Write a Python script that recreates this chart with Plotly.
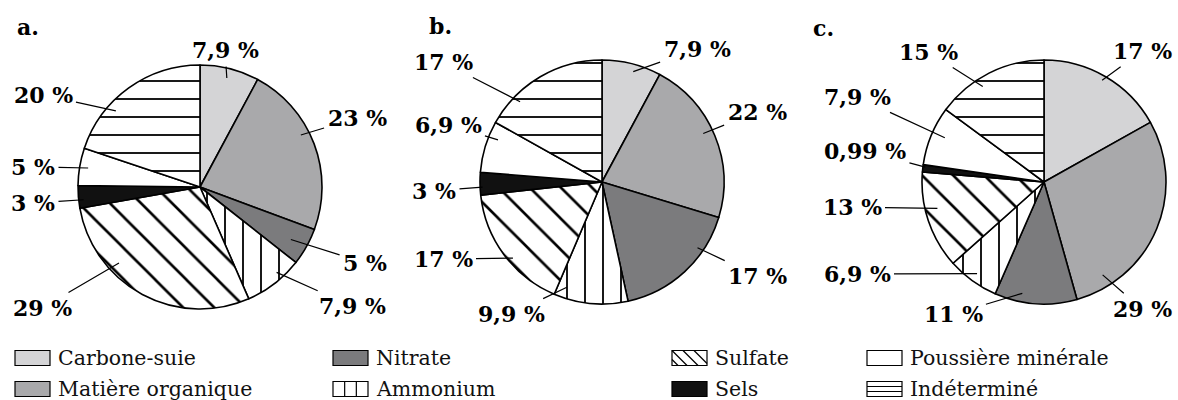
import math
import plotly.graph_objects as go

# ---------------- data ----------------
CATEGORIES = ["Carbone-suie", "Matière organique", "Nitrate", "Ammonium",
              "Sulfate", "Sels", "Poussière minérale", "Indéterminé"]
VALUES_A = [7.9, 23, 5, 7.9, 29, 3, 5, 20]
VALUES_B = [7.9, 22, 17, 9.9, 17, 3, 6.9, 17]
VALUES_C = [17, 29, 11, 6.9, 13, 0.99, 7.9, 15]
PANEL_TITLES = ["a.", "b.", "c."]

# ---------------- styles ----------------
W, H = 1178, 400
FILL = ["#d4d4d6", "#a9a9ab", "#7b7b7d", "white", "white", "#111111", "white", "white"]
PATTERN = ["", "", "", "|", "\\", "", "", "-"]
PSIZE = [8, 8, 8, 18, 22, 8, 8, 18]
PSOLID = [0.1, 0.1, 0.1, 0.1, 0.12, 0.1, 0.1, 0.1]
R = 122
PIE_CENTERS = [(200, 187), (602, 182), (1044, 182)]
TITLE_POS = [(15, 27), (427, 26), (811, 28)]
# label placement: (position within slice, radial fraction of tip, label x px, label y px)
LABEL_LAYOUT = [
    [(0.49, 0.92, 225, 50), (0.42, 0.93, 357, 118), (0.54, 0.86, 365, 263),
     (0.35, 0.94, 352, 306), (0.68, 0.91, 42, 308), (0.35, 0.96, 33, 203),
     (0.5, 0.93, 33, 167), (0.33, 0.93, 43, 95)],
    [(0.56, 0.94, 697, 49), (0.46, 0.92, 757, 112), (0.29, 0.95, 757, 276),
     (0.87, 0.91, 511, 314), (0.435, 0.96, 443, 259), (0.35, 0.98, 434, 191),
     (0.71, 0.92, 448, 125), (0.25, 0.94, 443, 62)],
    [(0.49, 0.96, 1142, 51), (0.84, 0.90, 1142, 309), (0.68, 0.93, 953, 314),
     (0.51, 0.93, 857, 274), (0.60, 0.90, 852, 207), (0.71, 0.98, 865, 151),
     (0.56, 0.89, 857, 97), (0.39, 0.93, 928, 52)],
]
LEG_COL_X = [15, 333, 672, 867]
LEG_ROW_Y = [358, 389]
SW_W, SW_H = 35, 15
LABEL_FONT = dict(family="DejaVu Serif", size=22, color="black", weight="bold")
LEG_FONT = dict(family="DejaVu Serif", size=20.5, color="#111111")


def px(x):
    return x / W


def py(y):
    return 1 - y / H


def fmt(v):
    return ("%g" % v).replace(".", ",") + " %"


fig = go.Figure()
annotations = []
shapes = []

for p, vals in enumerate([VALUES_A, VALUES_B, VALUES_C]):
    cx, cy = PIE_CENTERS[p]
    fig.add_trace(go.Pie(
        labels=CATEGORIES, values=vals, sort=False, direction="clockwise",
        rotation=0, textinfo="none", showlegend=False,
        domain=dict(x=[px(cx - R), px(cx + R)], y=[py(cy + R), py(cy - R)]),
        marker=dict(colors=FILL, line=dict(color="black", width=1.6),
                    pattern=dict(shape=PATTERN, size=PSIZE, solidity=PSOLID,
                                 fgcolor="black", bgcolor="white", fillmode="replace")),
    ))
    total = sum(vals)
    cum = 0.0
    for i, v in enumerate(vals):
        t, f, lx, ly = LABEL_LAYOUT[p][i]
        theta = math.radians((cum + t * v) / total * 360.0)
        tx = cx + f * R * math.sin(theta)
        ty = cy - f * R * math.cos(theta)
        annotations.append(dict(
            x=px(tx), y=py(ty), xref="paper", yref="paper",
            ax=lx - tx, ay=ly - ty, axref="pixel", ayref="pixel",
            text=fmt(v), showarrow=True, arrowhead=0, arrowwidth=1.2,
            arrowcolor="black", standoff=0, startstandoff=2,
            font=LABEL_FONT, borderpad=1,
        ))
        cum += v
    tx0, ty0 = TITLE_POS[p]
    annotations.append(dict(x=px(tx0), y=py(ty0), xref="paper", yref="paper",
                            xanchor="left", yanchor="middle", showarrow=False,
                            text=PANEL_TITLES[p], font=LABEL_FONT))

# ---------------- legend (drawn) ----------------
for i, name in enumerate(CATEGORIES):
    col, row = i // 2, i % 2
    x0 = LEG_COL_X[col]
    yc = LEG_ROW_Y[row]
    y0, y1 = yc - SW_H / 2, yc + SW_H / 2
    x1 = x0 + SW_W
    shapes.append(dict(type="rect", xref="paper", yref="paper",
                       x0=px(x0), x1=px(x1), y0=py(y1), y1=py(y0),
                       fillcolor=FILL[i], line=dict(color="black", width=1.2)))
    pat = PATTERN[i]
    segs = []
    if pat == "|":
        for k in (1, 2):
            xx = x0 + SW_W * k / 3
            segs.append((xx, y0, xx, y1))
    elif pat == "-":
        for k in (1, 2):
            yy = y0 + SW_H * k / 3
            segs.append((x0, yy, x1, yy))
    elif pat == "\\":
        for a in (-SW_H + 6, 0, 11, 22):
            sx, sy = x0 + a, y0
            if sx < x0:
                sy = y0 + (x0 - sx)
                sx = x0
            ex = min(x0 + a + SW_H, x1)
            ey = y0 + (ex - (x0 + a))
            if ex > sx:
                segs.append((sx, sy, ex, ey))
    for (sx, sy, ex, ey) in segs:
        shapes.append(dict(type="line", xref="paper", yref="paper",
                           x0=px(sx), y0=py(sy), x1=px(ex), y1=py(ey),
                           line=dict(color="black", width=1.2)))
    annotations.append(dict(x=px(x1 + 6), y=py(yc), xref="paper", yref="paper",
                            xanchor="left", yanchor="middle", showarrow=False,
                            text=name, font=LEG_FONT))

fig.update_layout(
    width=W, height=H, margin=dict(l=0, r=0, t=0, b=0),
    paper_bgcolor="white", plot_bgcolor="white",
    annotations=annotations, shapes=shapes, showlegend=False,
)
fig.write_html("out.html", config={"displayModeBar": False},
               post_script="document.body.style.margin='0';document.body.style.overflow='hidden';")
